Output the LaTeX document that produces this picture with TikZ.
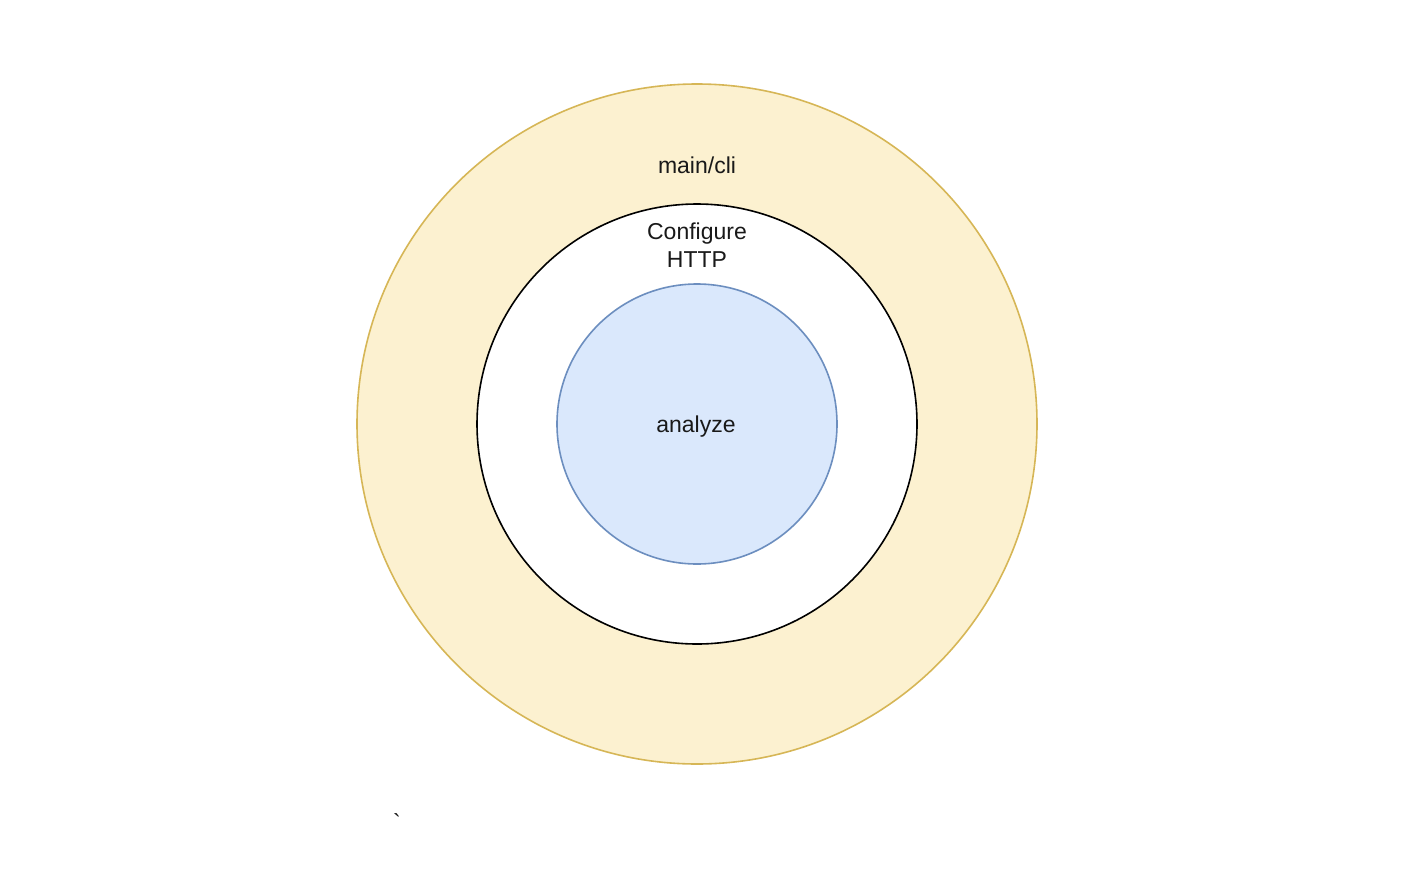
\documentclass[tikz,border=0pt]{standalone}
\usepackage{fontspec}
\setmainfont{Liberation Sans}
\definecolor{yfill}{HTML}{FCF1D0}
\definecolor{ydraw}{HTML}{D6B656}
\definecolor{bfill}{HTML}{DAE8FC}
\definecolor{bdraw}{HTML}{6C8EBF}
\begin{document}
\begin{tikzpicture}[x=1pt,y=-1pt,
  ring/.style={circle,inner sep=0pt,line width=1.6pt},
  lbl/.style={font=\fontsize{23}{28}\selectfont,align=center,text=black!90}]
\useasboundingbox (0,0) rectangle (1406,892);
\node[ring,draw=ydraw,fill=yfill,minimum size=680pt] (outer) at (697,424) {};
\node[ring,draw=black,fill=white,minimum size=440pt] (middle) at (697,424) {};
\node[ring,draw=bdraw,fill=bfill,minimum size=280pt] (inner) at (697,424) {};
\node[lbl] (maincli) at (697,165) {main/cli};
\node[lbl] (conf) at (697,245) {Configure\\HTTP};
\node[lbl] (analyze) at (696,427) {analyze};
\node[lbl] (tick) at (397,822) {\textasciigrave};
\end{tikzpicture}
\end{document}
